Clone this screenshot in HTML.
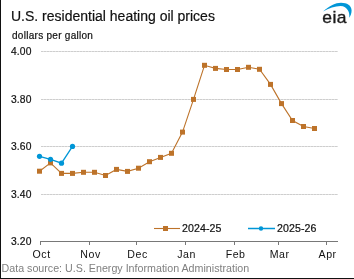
<!DOCTYPE html>
<html><head><meta charset="utf-8"><style>
html,body{margin:0;padding:0;background:#fff;}
body{width:354px;height:279px;overflow:hidden;position:relative;}
svg{position:absolute;left:0;top:0;font-family:"Liberation Sans",sans-serif;}
text{filter:grayscale(1);}
.d{stroke:#111;stroke-width:0.2px;}
.bl{position:absolute;left:0;top:0;width:1px;height:279px;background:#111;}
.bb{position:absolute;left:0;top:278px;width:354px;height:1px;background:#111;}
</style></head><body>
<svg width="354" height="279" viewBox="0 0 354 279">
<line x1="41" y1="51.5" x2="338" y2="51.5" stroke="#e0e0e0" stroke-width="1"/>
<line x1="41" y1="51.5" x2="338" y2="51.5" stroke="#cecece" stroke-width="1" stroke-dasharray="2,1"/>
<line x1="41" y1="99.5" x2="338" y2="99.5" stroke="#e0e0e0" stroke-width="1"/>
<line x1="41" y1="99.5" x2="338" y2="99.5" stroke="#cecece" stroke-width="1" stroke-dasharray="2,1"/>
<line x1="41" y1="146.5" x2="338" y2="146.5" stroke="#e0e0e0" stroke-width="1"/>
<line x1="41" y1="146.5" x2="338" y2="146.5" stroke="#cecece" stroke-width="1" stroke-dasharray="2,1"/>
<line x1="41" y1="194.5" x2="338" y2="194.5" stroke="#e0e0e0" stroke-width="1"/>
<line x1="41" y1="194.5" x2="338" y2="194.5" stroke="#cecece" stroke-width="1" stroke-dasharray="2,1"/>
<line x1="40" y1="241.5" x2="338" y2="241.5" stroke="#787878" stroke-width="1"/>
<line x1="40.5" y1="241.5" x2="40.5" y2="245" stroke="#787878" stroke-width="1"/>
<line x1="89.5" y1="241.5" x2="89.5" y2="245" stroke="#787878" stroke-width="1"/>
<line x1="136.5" y1="241.5" x2="136.5" y2="245" stroke="#787878" stroke-width="1"/>
<line x1="185.5" y1="241.5" x2="185.5" y2="245" stroke="#787878" stroke-width="1"/>
<line x1="234.5" y1="241.5" x2="234.5" y2="245" stroke="#787878" stroke-width="1"/>
<line x1="278.5" y1="241.5" x2="278.5" y2="245" stroke="#787878" stroke-width="1"/>
<line x1="326.5" y1="241.5" x2="326.5" y2="245" stroke="#787878" stroke-width="1"/>
<text x="11" y="55.2" font-size="10.3" letter-spacing="0.12" fill="#111" class="d">4.00</text>
<text x="11" y="102.9" font-size="10.3" letter-spacing="0.12" fill="#111" class="d">3.80</text>
<text x="11" y="150.2" font-size="10.3" letter-spacing="0.12" fill="#111" class="d">3.60</text>
<text x="11" y="198" font-size="10.3" letter-spacing="0.12" fill="#111" class="d">3.40</text>
<text x="11" y="245.2" font-size="10.3" letter-spacing="0.12" fill="#111" class="d">3.20</text>
<text x="41.6" y="258" font-size="10.6" letter-spacing="0.55" fill="#111" text-anchor="middle">Oct</text>
<text x="90.6" y="258" font-size="10.6" letter-spacing="0.55" fill="#111" text-anchor="middle">Nov</text>
<text x="137.6" y="258" font-size="10.6" letter-spacing="0.55" fill="#111" text-anchor="middle">Dec</text>
<text x="186.6" y="258" font-size="10.6" letter-spacing="0.55" fill="#111" text-anchor="middle">Jan</text>
<text x="235.6" y="258" font-size="10.6" letter-spacing="0.55" fill="#111" text-anchor="middle">Feb</text>
<text x="279.6" y="258" font-size="10.6" letter-spacing="0.55" fill="#111" text-anchor="middle">Mar</text>
<text x="327.6" y="258" font-size="10.6" letter-spacing="0.55" fill="#111" text-anchor="middle">Apr</text>
<polyline fill="none" stroke="#bd732a" stroke-width="1.1" points="39.5,171.2 50.5,162.9 61.5,173.4 72.5,173.4 83.5,172.3 94.5,172.3 105.5,175.5 116.5,169.4 127.5,171.4 138.5,168.2 149.5,161.7 160.5,157.4 171.5,153.3 182.5,132.1 193.5,99.4 204.5,65.3 215.5,68.4 226.5,69.5 237.5,69.5 248.5,67.3 259.5,69.3 270.5,84.4 281.5,103.6 292.5,120.5 303.5,126.5 314.5,128.5"/>
<rect x="37.0" y="168.7" width="5" height="5" fill="#bd732a"/>
<rect x="48.0" y="160.4" width="5" height="5" fill="#bd732a"/>
<rect x="59.0" y="170.9" width="5" height="5" fill="#bd732a"/>
<rect x="70.0" y="170.9" width="5" height="5" fill="#bd732a"/>
<rect x="81.0" y="169.8" width="5" height="5" fill="#bd732a"/>
<rect x="92.0" y="169.8" width="5" height="5" fill="#bd732a"/>
<rect x="103.0" y="173.0" width="5" height="5" fill="#bd732a"/>
<rect x="114.0" y="166.9" width="5" height="5" fill="#bd732a"/>
<rect x="125.0" y="168.9" width="5" height="5" fill="#bd732a"/>
<rect x="136.0" y="165.7" width="5" height="5" fill="#bd732a"/>
<rect x="147.0" y="159.2" width="5" height="5" fill="#bd732a"/>
<rect x="158.0" y="154.9" width="5" height="5" fill="#bd732a"/>
<rect x="169.0" y="150.8" width="5" height="5" fill="#bd732a"/>
<rect x="180.0" y="129.6" width="5" height="5" fill="#bd732a"/>
<rect x="191.0" y="96.9" width="5" height="5" fill="#bd732a"/>
<rect x="202.0" y="62.8" width="5" height="5" fill="#bd732a"/>
<rect x="213.0" y="65.9" width="5" height="5" fill="#bd732a"/>
<rect x="224.0" y="67.0" width="5" height="5" fill="#bd732a"/>
<rect x="235.0" y="67.0" width="5" height="5" fill="#bd732a"/>
<rect x="246.0" y="64.8" width="5" height="5" fill="#bd732a"/>
<rect x="257.0" y="66.8" width="5" height="5" fill="#bd732a"/>
<rect x="268.0" y="81.9" width="5" height="5" fill="#bd732a"/>
<rect x="279.0" y="101.1" width="5" height="5" fill="#bd732a"/>
<rect x="290.0" y="118.0" width="5" height="5" fill="#bd732a"/>
<rect x="301.0" y="124.0" width="5" height="5" fill="#bd732a"/>
<rect x="312.0" y="126.0" width="5" height="5" fill="#bd732a"/>
<polyline fill="none" stroke="#0096d7" stroke-width="1.3" points="39.5,156.3 50.5,159.3 61.5,163.2 72.5,146.4"/>
<circle cx="39.5" cy="156.3" r="2.6" fill="#0096d7"/>
<circle cx="50.5" cy="159.3" r="2.6" fill="#0096d7"/>
<circle cx="61.5" cy="163.2" r="2.6" fill="#0096d7"/>
<circle cx="72.5" cy="146.4" r="2.6" fill="#0096d7"/>
<line x1="154" y1="228.5" x2="180" y2="228.5" stroke="#bd732a" stroke-width="1.1"/>
<rect x="163" y="226" width="5" height="5" fill="#bd732a"/>
<text x="182" y="232.1" font-size="10.6" letter-spacing="0.1" fill="#111" class="d">2024-25</text>
<line x1="248" y1="228.5" x2="275" y2="228.5" stroke="#0096d7" stroke-width="1.5"/>
<circle cx="261" cy="228.5" r="2.2" fill="#0096d7"/>
<text x="277" y="232.1" font-size="10.6" letter-spacing="0.1" fill="#111" class="d">2025-26</text>
<text x="11" y="21" font-size="14" fill="#111" class="d">U.S. residential heating oil prices</text>
<text x="12" y="38.5" font-size="10" letter-spacing="0.28" fill="#111" class="d">dollars per gallon</text>
<text x="1.5" y="271.6" font-size="10.7" fill="#808080">Data source: U.S. Energy Information Administration</text>
<path d="M323,11.6 C329.5,6 335.5,2.8 341,2.8 C347,2.8 351.6,5.5 351.6,10.5 C351.6,13.5 350.6,15.8 349.2,17.8 C349.6,15 349.2,12.5 348,10.5 C346.5,7.8 344,6 340.5,6 C335,6 329,8.2 323,11.6 Z" fill="#0096d7"/>
<text transform="translate(322.2,22.9) scale(1,0.91)" x="0" y="0" font-size="17.5" letter-spacing="0.5" fill="#1a1a1a" stroke="#1a1a1a" stroke-width="0.4">eia</text>
</svg>
<div class="bl"></div><div class="bb"></div>
</body></html>
